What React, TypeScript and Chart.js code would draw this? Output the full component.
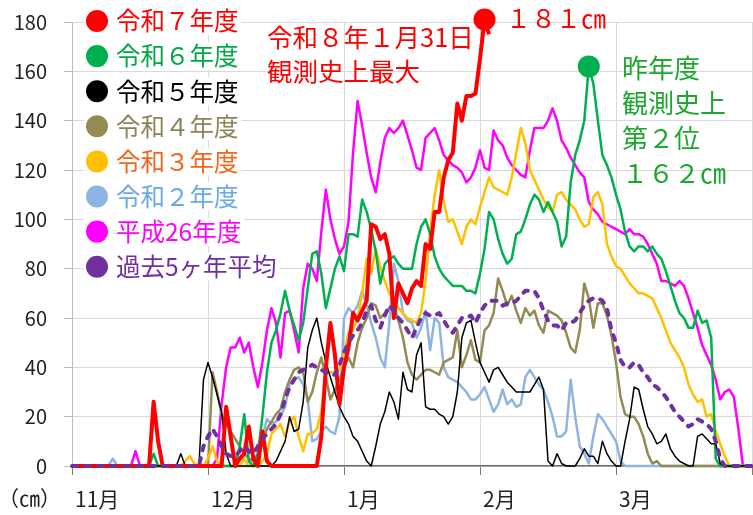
import { useEffect, useRef } from 'react';
import { Chart, registerables } from 'chart.js';

Chart.register(...registerables);

const FONT = '"Noto Sans CJK JP", "Noto Sans", sans-serif';

// x axis: day index counted from 1 Nov; month ticks every 30 slots
const monthLabels = ['11月', '12月', '1月', '2月', '3月', ''];
const monthTickDays = [0, 30, 60, 90, 120, 150];
const yMax = 180;
const yStep = 20;

const seriesNames = ['令和７年度', '令和６年度', '令和５年度', '令和４年度', '令和３年度', '令和２年度', '平成26年度', '過去5ヶ年平均'];
const lineColors = ['#ff0000', '#00b050', '#000000', '#948a54', '#ffc000', '#8db4e2', '#ff00ff', '#7030a0'];
const legendTextColors = ['#ff0000', '#00a846', '#000000', '#8c8358', '#f4661b', '#6aa8ec', '#ff00ff', '#7030a0'];

// snow depth (cm)
const r7 = [
  0, 0, 0, 0, 0, 0, 0, 0, 0, 0,
  0, 0, 0, 0, 0, 0, 0, 0, 26, 10,
  0, 0, 0, 0, 0, 0, 0, 0, 0, 0,
  0, 0, 0, 0, 24, 12, 0, 3, 5, 16,
  3, 0, 14, 2, 0, 0, 0, 0, 0, 0,
  0, 0, 0, 0, 0, 12, 40, 58, 45, 25,
  40, 48, 62, 59, 63, 67, 98, 97, 92, 94,
  86, 60, 74, 70, 66, 72, 75, 73, 90, 88,
  103, 103, 117, 124, 127, 147, 140, 150, 150, 151,
  165, 181, 175,
];
const r6 = [
  0, 0, 0, 0, 0, 0, 0, 0, 0, 0,
  0, 0, 0, 0, 0, 0, 0, 0, 5, 0,
  0, 0, 0, 0, 0, 0, 0, 0, 0, 0,
  0, 0, 0, 0, 0, 0, 0, 8, 21, 2,
  0, 5, 20, 38, 50, 55, 62, 71, 63, 57,
  51, 58, 72, 86, 87, 78, 64, 72, 80, 85,
  79, 94, 94, 93, 108, 103, 96, 87, 74, 82,
  84, 85, 82, 80, 80, 80, 90, 97, 100, 94,
  85, 80, 77, 75, 73, 73, 73, 71, 71, 70,
  78, 88, 103, 100, 92, 86, 82, 84, 94, 95,
  100, 106, 110, 108, 103, 107, 103, 99, 89, 93,
  115, 126, 132, 140, 162, 155, 140, 126, 122, 117,
  110, 104, 95, 89, 87, 89, 89, 87, 89, 86,
  84, 79, 73, 67, 62, 60, 56, 56, 63, 58,
  59, 52, 3, 0, 0, 0, 0, 0, 0, 0,
  0,
];
const r5 = [
  0, 0, 0, 0, 0, 0, 0, 0, 0, 0,
  0, 0, 0, 0, 0, 0, 0, 0, 0, 0,
  0, 0, 0, 0, 5, 0, 0, 0, 0, 35,
  42, 36, 29, 22, 5, 0, 0, 0, 0, 0,
  0, 0, 0, 0, 0, 2, 6, 10, 20, 14,
  15, 26, 48, 55, 60, 50, 42, 36, 30, 24,
  20, 17, 12, 10, 6, 2, 0, 8, 17, 22,
  30, 26, 19, 38, 31, 30, 45, 50, 24, 23,
  23, 21, 20, 17, 20, 30, 52, 58, 59, 50,
  42, 38, 34, 39, 40, 37, 34, 32, 30, 30,
  30, 30, 33, 36, 31, 2, 0, 5, 1, 0,
  0, 0, 3, 7, 4, 4, 1, 10, 5, 2,
  0, 0, 10, 19, 32, 31, 23, 16, 13, 9,
  10, 13, 7, 4, 2, 1, 0, 0, 12, 13,
  11, 9, 9, 1, 0, 0, 0, 0, 0, 0,
  0,
];
const r4 = [
  0, 0, 0, 0, 0, 0, 0, 0, 0, 0,
  0, 0, 0, 0, 0, 0, 0, 0, 0, 0,
  0, 0, 0, 0, 0, 0, 0, 0, 0, 0,
  0, 38, 30, 21, 17, 14, 11, 8, 5, 3,
  2, 5, 10, 15, 18, 21, 23, 30, 35, 39,
  40, 38, 26, 30, 38, 44, 36, 27, 31, 35,
  40, 44, 40, 50, 56, 60, 66, 65, 60, 62,
  64, 65, 59, 52, 42, 37, 35, 37, 39, 39,
  38, 37, 42, 43, 44, 55, 40, 45, 51, 43,
  42, 55, 57, 62, 76, 71, 65, 69, 63, 58,
  64, 61, 63, 57, 54, 63, 62, 61, 59, 54,
  48, 46, 55, 74, 68, 56, 66, 66, 61, 53,
  42, 28, 21, 20, 20, 17, 12, 5, 1, 2,
  0, 0, 0, 0, 0, 0, 0, 0, 0, 0,
  0, 0, 0, 0, 0, 0, 0, 0, 0, 0,
  0,
];
const r3 = [
  0, 0, 0, 0, 0, 0, 0, 0, 0, 0,
  0, 0, 0, 0, 0, 0, 0, 0, 0, 0,
  0, 0, 0, 0, 0, 2, 4, 1, 0, 0,
  3, 8, 2, 0, 0, 0, 0, 0, 3, 0,
  0, 0, 2, 5, 13, 15, 17, 12, 18, 20,
  12, 6, 13, 13, 15, 22, 38, 38, 38, 39,
  46, 54, 55, 60, 70, 84, 78, 88, 81, 75,
  70, 67, 64, 62, 60, 59, 58, 62, 75, 95,
  110, 120, 107, 99, 100, 95, 90, 97, 100, 98,
  105, 111, 117, 113, 112, 111, 110, 117, 127, 137,
  131, 120, 116, 112, 108, 105, 103, 110, 111, 108,
  106, 104, 100, 97, 98, 109, 111, 106, 90, 85,
  81, 80, 77, 74, 72, 70, 70, 69, 68, 64,
  60, 55, 50, 47, 44, 40, 33, 29, 26, 27,
  20, 21, 14, 9, 4, 0, 0, 0, 0, 0,
  0,
];
const r2 = [
  0, 0, 0, 0, 0, 0, 0, 0, 0, 3,
  0, 0, 0, 0, 0, 0, 0, 0, 0, 0,
  0, 0, 0, 0, 0, 0, 0, 0, 0, 0,
  0, 0, 0, 0, 0, 0, 0, 0, 0, 0,
  0, 5, 12, 19, 17, 18, 20, 24, 33, 35,
  36, 33, 27, 10, 11, 14, 16, 14, 13, 20,
  60, 64, 62, 65, 71, 65, 58, 52, 44, 40,
  58, 82, 75, 62, 59, 58, 52, 56, 63, 47,
  60, 58, 40, 36, 35, 34, 32, 30, 27, 27,
  29, 32, 27, 22, 25, 31, 25, 27, 24, 25,
  36, 39, 36, 33, 31, 26, 20, 12, 12, 14,
  35, 20, 8, 5, 1, 12, 21, 19, 16, 13,
  10, 2, 0, 0, 0, 0, 0, 0, 0, 0,
  0, 0, 0, 0, 0, 0, 0, 0, 0, 0,
  0, 0, 0, 0, 0, 0, 0, 0, 0, 0,
  0,
];
const h26 = [
  0, 0, 0, 0, 0, 0, 0, 0, 0, 0,
  0, 0, 0, 0, 6, 0, 0, 0, 0, 0,
  0, 0, 0, 0, 0, 0, 0, 0, 0, 0,
  0, 0, 3, 25, 40, 48, 48, 52, 46, 50,
  40, 32, 42, 55, 64, 58, 44, 62, 63, 55,
  46, 72, 82, 80, 75, 95, 112, 100, 92, 86,
  89, 99, 127, 148, 138, 127, 117, 111, 123, 133,
  137, 135, 137, 140, 134, 128, 121, 120, 133, 135,
  137, 132, 126, 124, 122, 121, 119, 115, 117, 121,
  128, 121, 120, 136, 132, 130, 125, 122, 120, 118,
  117, 128, 137, 137, 137, 140, 145, 140, 132, 129,
  125, 122, 119, 117, 107, 104, 102, 99, 98, 97,
  96, 95, 94, 96, 94, 94, 93, 90, 86, 82,
  75, 75, 74, 73, 75, 73, 68, 62, 56, 49,
  45, 41, 35, 27, 30, 31, 28, 15, 0, 0,
  0,
];
const avg5 = [
  0, 0, 0, 0, 0, 0, 0, 0, 0, 0,
  0, 0, 0, 0, 0, 0, 0, 0, 0, 0,
  0, 0, 0, 0, 0, 0, 0, 0, 0, 8,
  12, 15, 12, 8, 5, 4, 4, 6, 8, 6,
  5, 8, 11, 13, 15, 17, 21, 27, 32, 35,
  38, 39, 40, 41, 40, 39, 38, 37, 37, 41,
  46, 50, 53, 55, 58, 63, 65, 59, 56, 61,
  65, 63, 60, 58, 55, 52, 56, 60, 62, 61,
  61, 62, 59, 56, 54, 57, 60, 60, 61, 58,
  62, 65, 67, 67, 67, 65, 66, 66, 67, 69,
  71, 71, 71, 68, 63, 59, 57, 57, 55, 58,
  58, 59, 62, 65, 67, 68, 68, 67, 64, 55,
  50, 43, 40, 40, 42, 41, 38, 36, 33, 32,
  30, 28, 25, 22, 20, 18, 16, 17, 19, 18,
  17, 15, 10, 3, 0, 0, 0, 0, 0, 0,
  0,
];

const seriesValues = [r7, r6, r5, r4, r3, r2, h26, avg5];
const lineWidths = [4, 2.5, 1.5, 2.5, 2.5, 2.5, 2.5, 4];
const drawOrder = [1, 3, 2, 5, 4, 6, 7, 0];
const markedSeries = [0, 1];

const unitLabel = '（㎝）';
const recordNoteLines = ['令和８年１月31日', '観測史上最大'];
const recordValueText = '１８１㎝';
const lastYearNoteLines = ['昨年度', '観測史上', '第２位', '１６２㎝'];

const legendPlugin = {
  id: 'snowLegend',
  afterDatasetsDraw(chart: any) {
    const ctx = chart.ctx;
    ctx.save();
    ctx.font = `24.5px ${FONT}`;
    ctx.textBaseline = 'middle';
    ctx.textAlign = 'left';
    chart.data.datasets.forEach((ds: any, i: number) => {
      const y = 21 + i * 35.1;
      const w = ctx.measureText(ds.label).width;
      ctx.fillStyle = '#ffffff';
      ctx.fillRect(84, y - 14, 116 - 84 + w + 3, 28);
      ctx.beginPath();
      ctx.arc(97, y, 11, 0, Math.PI * 2);
      ctx.fillStyle = ds.borderColor;
      ctx.fill();
      ctx.fillStyle = legendTextColors[i];
      ctx.fillText(ds.label, 116, y);
    });
    ctx.restore();
  },
};

const notesPlugin = {
  id: 'snowNotes',
  afterDatasetsDraw(chart: any) {
    const ctx = chart.ctx;
    ctx.save();
    ctx.textBaseline = 'middle';
    ctx.textAlign = 'left';
    ctx.font = `25.5px ${FONT}`;
    ctx.fillStyle = '#ff0000';
    recordNoteLines.forEach((t, i) => ctx.fillText(t, 267, 37 + i * 34.5));
    ctx.font = `25px ${FONT}`;
    ctx.fillText(recordValueText, 506, 18);
    ctx.font = `26px ${FONT}`;
    ctx.fillStyle = '#1ca82f';
    lastYearNoteLines.forEach((t, i) => ctx.fillText(t, 622, 68 + i * 35));
    ctx.font = `21px ${FONT}`;
    ctx.fillStyle = '#222222';
    ctx.fillText(unitLabel, -2, 498);
    ctx.restore();
  },
};

export default function App() {
  const ref = useRef<HTMLCanvasElement>(null);
  useEffect(() => {
    document.body.style.margin = '0';
    const datasets = seriesNames.map((name, s) => {
      const values = seriesValues[s];
      const peak = values.indexOf(Math.max(...values));
      const marked = markedSeries.includes(s);
      return {
        label: name,
        data: values.map((v, i) => ({ x: i, y: v })),
        borderColor: lineColors[s],
        backgroundColor: lineColors[s],
        borderWidth: lineWidths[s],
        borderDash: s === 7 ? [5, 8] : [],
        borderCapStyle: s === 7 ? 'round' : 'butt',
        borderJoinStyle: 'round',
        tension: 0,
        order: drawOrder[s],
        clip: false,
        pointRadius: (c: any) => (marked && c.dataIndex === peak ? 11 : 0),
        pointHoverRadius: 0,
        pointBorderWidth: 0,
        pointBackgroundColor: lineColors[s],
      };
    });
    const chart = new Chart(ref.current as HTMLCanvasElement, {
      type: 'line',
      data: { datasets } as any,
      options: {
        animation: false,
        responsive: false,
        events: [],
        layout: { autoPadding: false, padding: { top: 22, right: 1, left: 0, bottom: 0 } },
        plugins: { legend: { display: false }, tooltip: { enabled: false } },
        scales: {
          x: {
            type: 'linear',
            min: 0,
            max: 150,
            afterBuildTicks: (axis: any) => {
              axis.ticks = monthTickDays.map((v) => ({ value: v }));
            },
            afterFit: (axis: any) => {
              axis.height = 49;
              axis.paddingLeft = 0;
              axis.paddingRight = 0;
            },
            ticks: {
              autoSkip: false,
              maxRotation: 0,
              align: 'start',
              labelOffset: 3,
              padding: 11,
              color: '#222222',
              font: { family: FONT, size: 21 },
              callback: (_v: any, i: number) => monthLabels[i],
            },
            grid: { color: '#d9d9d9', tickLength: 9, tickColor: '#7a7a7a' },
            border: { color: '#6b6b6b', width: 1.5 },
          },
          y: {
            min: 0,
            max: yMax,
            afterFit: (axis: any) => {
              axis.width = 72;
              axis.paddingTop = 0;
              axis.paddingBottom = 0;
            },
            ticks: {
              stepSize: yStep,
              padding: 17,
              color: '#222222',
              font: { family: FONT, size: 20 },
            },
            grid: { color: '#d9d9d9', tickLength: 8, tickColor: '#bdbdbd' },
            border: { color: '#bdbdbd' },
          },
        },
      } as any,
      plugins: [legendPlugin, notesPlugin],
    });
    return () => chart.destroy();
  }, []);
  return <canvas ref={ref} width={753} height={515} style={{ display: 'block' }} />;
}
